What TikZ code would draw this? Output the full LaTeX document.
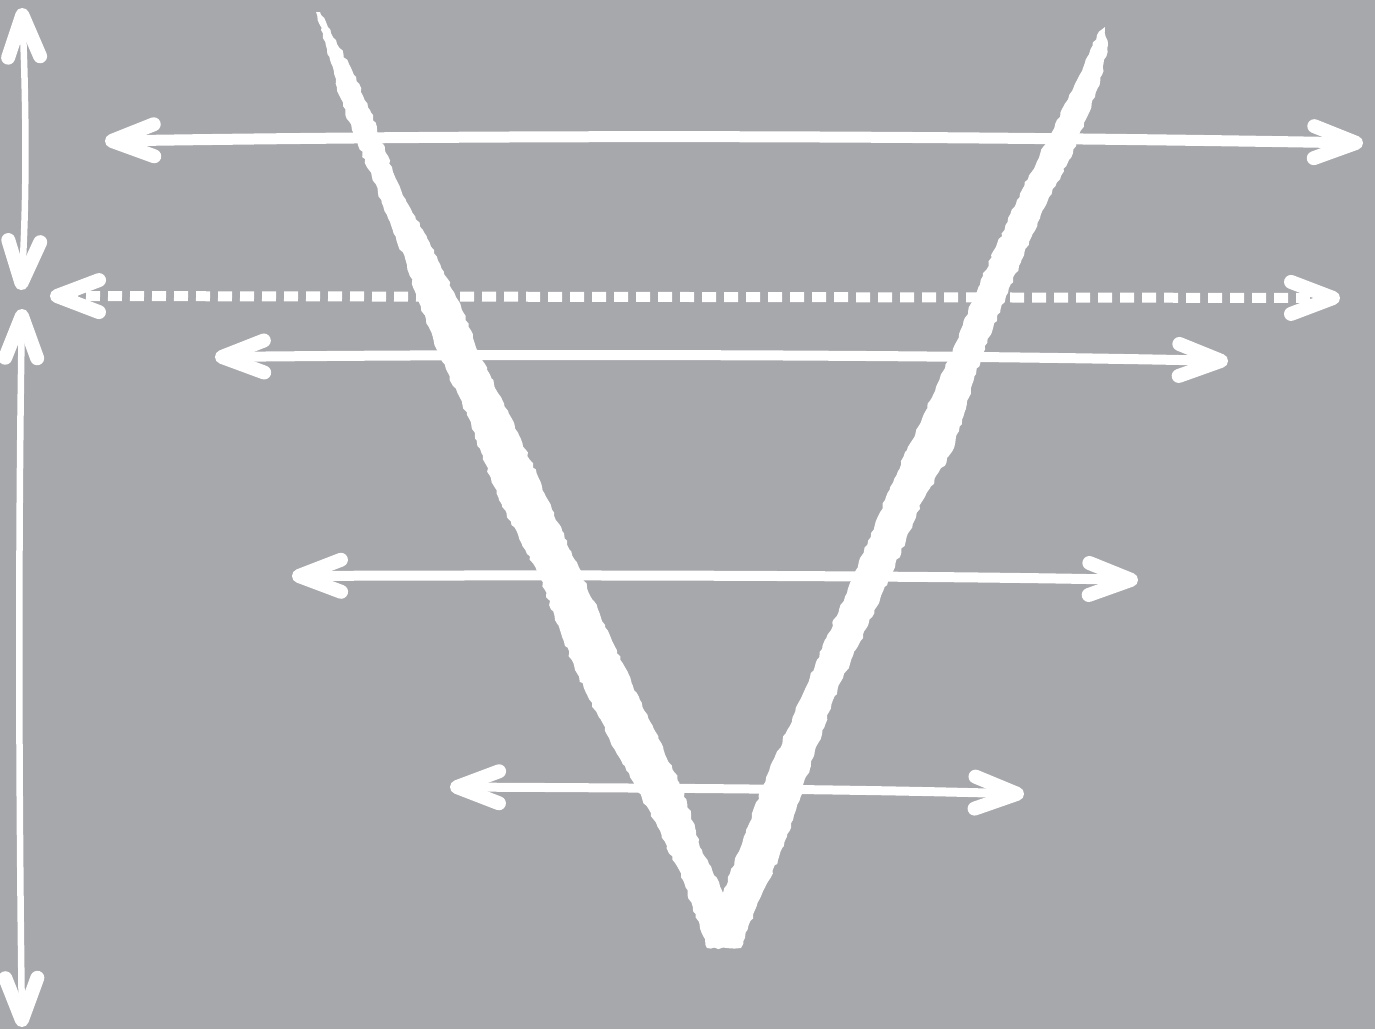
\documentclass[tikz,border=0pt]{standalone}
\usetikzlibrary{arrows.meta,decorations.pathmorphing}
\definecolor{bggray}{RGB}{167,168,172}
\begin{document}
\begin{tikzpicture}[x=1pt,y=-1pt,
  chalk/.style={draw=white, line cap=butt},
  dblarrow/.style={chalk, {Straight Barb[length=42pt,width=32pt,line width=14pt 0,line join=round,line cap=round]}-{Straight Barb[length=42pt,width=32pt,line width=14pt 0,line join=round,line cap=round]}},
  vshape/.style={fill=white, decorate, decoration={random steps,segment length=4pt,amplitude=1.2pt}}
]
\pgfmathsetseed{7}
\useasboundingbox (0,0) rectangle (1375,1029);
\fill[bggray] (0,0) rectangle (1375,1029);

% the V
\fill[vshape]
  (316,12) -- (321,30) -- (330,60) -- (339,95) -- (352,130) -- (369,170) -- (387,215)
  -- (407,265) -- (418,300) -- (437,350) -- (467,415) -- (499,500) -- (540,578)
  -- (575,670) -- (615,750) -- (654,820) -- (683,880) -- (707,948)
  -- (741,948) -- (755,910) -- (778,860) -- (793,820) -- (803,788) -- (833,700)
  -- (891,575) -- (923,500) -- (953,450) -- (981,357) -- (1006,296) -- (1048,200) -- (1069,160)
  -- (1088,115) -- (1102,75) -- (1108,45) -- (1105,27)
  -- (1097,35) -- (1077,80) -- (1055,125) -- (1017,200) -- (974,296) -- (950,357)
  -- (907,450) -- (885,500) -- (854,575) -- (800,700) -- (762,788) -- (743,840) -- (723,893)
  -- (702,850) -- (683,790) -- (640,700) -- (583,578) -- (548,500) -- (526,450)
  -- (481,357) -- (458,300) -- (423,230) -- (401,190) -- (385,150) -- (370,110)
  -- (354,75) -- (336,40) -- (320,12) -- cycle;

% end points
\coordinate (v1t) at (22,8);
\coordinate (v1b) at (21,290);
\coordinate (v2t) at (22,309);
\coordinate (v2b) at (22,1027);
\coordinate (h1l) at (105,141);
\coordinate (h1r) at (1363,143);
\coordinate (h2l) at (50,296);
\coordinate (h2r) at (1340,298);
\coordinate (h3l) at (215,357);
\coordinate (h3r) at (1228,361);
\coordinate (h4l) at (292,576);
\coordinate (h4r) at (1138,580);
\coordinate (h5l) at (450,787);
\coordinate (h5r) at (1024,794);

% vertical arrows
\draw[dblarrow, line width=6.5pt] (v1t) .. controls (26,100) and (27,200) .. (v1b);
\draw[dblarrow, line width=6.5pt] (v2t) .. controls (18,550) and (19,800) .. (v2b);

% horizontal arrows
\draw[dblarrow, line width=11pt] (h1l) .. controls (500,135) and (900,135) .. (h1r);
\draw[dblarrow, line width=10pt, dash pattern=on 14pt off 8pt] (h2l) -- (h2r);
\draw[dblarrow, line width=10pt] (h3l) .. controls (500,354) and (900,354) .. (h3r);
\draw[dblarrow, line width=10pt] (h4l) .. controls (500,575) and (900,575) .. (h4r);
\draw[dblarrow, line width=9pt] (h5l) .. controls (650,788) and (850,789) .. (h5r);
\end{tikzpicture}
\end{document}
